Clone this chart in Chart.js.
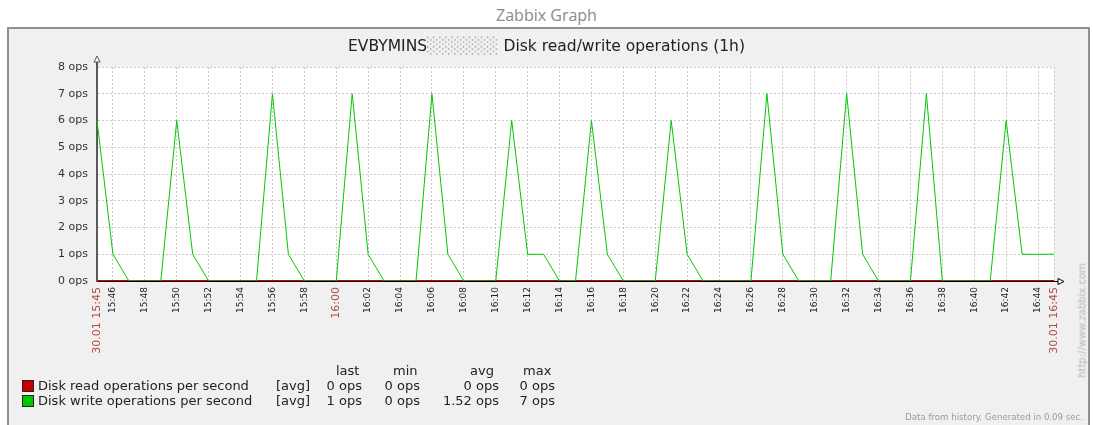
<!DOCTYPE html>
<html>
<head>
<meta charset="utf-8">
<title>Zabbix Graph</title>
<script src="https://cdn.jsdelivr.net/npm/chart.js@4.4.0/dist/chart.umd.min.js"></script>
<style>
body { margin: 0; width: 1093px; height: 425px; overflow: hidden; background: #fff; position: relative; font-family: 'DejaVu Sans', sans-serif; }
#head { position: absolute; left: 0; width: 1093px; top: 4px; text-align: center; font: 16px 'Open Sans', sans-serif; color: #8a8a8a; }
#frame { position: absolute; left: 7px; top: 27px; width: 1079px; height: 420px; background: #f0f0f0; border: 2px solid #8f8f8f; }
#wrap { position: absolute; left: 0; top: 0; width: 1093px; height: 425px; }
#title { position: absolute; left: 0; width: 1093px; top: 37px; text-align: center; font-size: 15.5px; color: #222; white-space: nowrap; }
#title .hide { color: #b4b4b4; }
.leg { position: absolute; font-size: 13px; line-height: 15px; color: #222; white-space: nowrap; }
.sw { position: absolute; width: 10px; height: 10px; border: 1px solid #222; }
#foot { position: absolute; right: 10px; top: 412px; font-size: 8.6px; color: #9a9a9a; white-space: nowrap; }
#url { position: absolute; left: 1022px; top: 315px; width: 120px; text-align: center; font-size: 10px; color: #b4b4b4; transform: rotate(-90deg); white-space: nowrap; }
</style>
</head>
<body>
<div id="head">Zabbix Graph</div>
<div id="frame"></div>
<div id="wrap"><canvas id="graph"></canvas></div>
<div id="title">EVBYMINS<span class="hide">░░░░░░</span> Disk read/write operations (1h)</div>
<div id="legend"></div>
<div id="foot">Data from history. Generated in 0.09 sec.</div>
<div id="url">http://www.zabbix.com</div>
<script>
// minutes of 30.01, one sample per minute
const times = [
    "15:45","15:46","15:47","15:48","15:49","15:50","15:51","15:52","15:53","15:54",
    "15:55","15:56","15:57","15:58","15:59","16:00","16:01","16:02","16:03","16:04",
    "16:05","16:06","16:07","16:08","16:09","16:10","16:11","16:12","16:13","16:14",
    "16:15","16:16","16:17","16:18","16:19","16:20","16:21","16:22","16:23","16:24",
    "16:25","16:26","16:27","16:28","16:29","16:30","16:31","16:32","16:33","16:34",
    "16:35","16:36","16:37","16:38","16:39","16:40","16:41","16:42","16:43","16:44",
    "16:45"
];
const readOps = [
    0,0,0,0,0,0,0,0,0,0,
    0,0,0,0,0,0,0,0,0,0,
    0,0,0,0,0,0,0,0,0,0,
    0,0,0,0,0,0,0,0,0,0,
    0,0,0,0,0,0,0,0,0,0,
    0,0,0,0,0,0,0,0,0,0,
    0
];
const writeOps = [
    6,1,0,0,0,6,1,0,0,0,
    0,7,1,0,0,0,7,1,0,0,
    0,7,1,0,0,0,6,1,1,0,
    0,6,1,0,0,0,6,1,0,0,
    0,0,7,1,0,0,0,7,1,0,
    0,0,7,0,0,0,0,6,1,1,
    1
];
const dateLabel = "30.01";
const redTimes = ["15:45", "16:00", "16:45"];
const yTicks = [0, 1, 2, 3, 4, 5, 6, 7, 8];

const seriesNames = ["Disk read operations per second", "Disk write operations per second"];
const seriesColors = ["#c80000", "#00c800"];
const statLast = ["0 ops", "1 ops"];
const statMin = ["0 ops", "0 ops"];
const statAvg = ["0 ops", "1.52 ops"];
const statMax = ["0 ops", "7 ops"];

function addLeg(text, css)
{
    let el = document.createElement('div');
    el.className = 'leg';
    el.textContent = text;
    Object.assign(el.style, css);
    document.getElementById('legend').appendChild(el);
}

addLeg("last", {left: '336px', top: '363px'});
addLeg("min", {left: '393px', top: '363px'});
addLeg("avg", {left: '470px', top: '363px'});
addLeg("max", {left: '523px', top: '363px'});
for (let i = 0; i < seriesNames.length; i++) {
    let top = 378 + i * 15;
    let sw = document.createElement('div');
    sw.className = 'sw';
    sw.style.left = '22px';
    sw.style.top = (top + 2) + 'px';
    sw.style.background = seriesColors[i];
    document.getElementById('legend').appendChild(sw);
    addLeg(seriesNames[i], {left: '38px', top: top + 'px'});
    addLeg("[avg]", {left: '276px', top: top + 'px'});
    addLeg(statLast[i], {right: (1093 - 362) + 'px', top: top + 'px'});
    addLeg(statMin[i], {right: (1093 - 420) + 'px', top: top + 'px'});
    addLeg(statAvg[i], {right: (1093 - 499) + 'px', top: top + 'px'});
    addLeg(statMax[i], {right: (1093 - 555) + 'px', top: top + 'px'});
}

function isRed(label)
{
    return redTimes.indexOf(label) >= 0;
}

// white plot area + axis arrows
const zabbixFrame = {
    id: 'zabbixFrame',
    beforeDraw(chart) {
        const a = chart.chartArea;
        const c = chart.ctx;
        c.save();
        c.fillStyle = '#ffffff';
        c.fillRect(a.left, a.top, a.right - a.left, a.bottom - a.top);
        c.restore();
    },
    afterDraw(chart) {
        const a = chart.chartArea;
        const c = chart.ctx;
        c.save();
        // y axis arrow
        c.strokeStyle = '#555';
        c.lineWidth = 2;
        c.beginPath();
        c.moveTo(a.left, a.top);
        c.lineTo(a.left, a.top - 6);
        c.stroke();
        c.lineWidth = 1;
        c.fillStyle = '#fff';
        c.beginPath();
        c.moveTo(a.left, a.top - 11);
        c.lineTo(a.left - 3, a.top - 5);
        c.lineTo(a.left + 3, a.top - 5);
        c.closePath();
        c.fill();
        c.stroke();
        // x axis arrow
        c.strokeStyle = '#000';
        c.beginPath();
        c.moveTo(a.right, a.bottom + 0.5);
        c.lineTo(a.right + 4, a.bottom + 0.5);
        c.stroke();
        c.beginPath();
        c.moveTo(a.right + 10, a.bottom + 0.5);
        c.lineTo(a.right + 4, a.bottom - 2.5);
        c.lineTo(a.right + 4, a.bottom + 3.5);
        c.closePath();
        c.fill();
        c.stroke();
        c.restore();
    }
};

Chart.defaults.font.family = "'DejaVu Sans', sans-serif";

const ctx = document.getElementById('graph');
const myChart = new Chart(ctx, {
    type: 'line',
    data: {
        labels: times,
        datasets: [
            {
                label: seriesNames[0],
                data: readOps,
                borderColor: seriesColors[0],
                borderWidth: 2,
                pointRadius: 0,
                tension: 0,
                order: 1
            },
            {
                label: seriesNames[1],
                data: writeOps,
                borderColor: seriesColors[1],
                borderWidth: 1,
                pointRadius: 0,
                tension: 0,
                order: 0
            }]
    },
    options: {
        responsive: true,
        maintainAspectRatio: false,
        animation: false,
        layout: {
            padding: {left: 37, right: 39, top: 67, bottom: 64}
        },
        plugins: {
            legend: {display: false},
            tooltip: {enabled: false},
            title: {display: false}
        },
        scales: {
            x: {
                type: 'category',
                offset: false,
                afterFit: scale => { scale.height = 80; },
                afterBuildTicks: scale => {
                    scale.ticks = scale.ticks.filter(t => t.value % 2 === 1 || t.value === 0 || t.value === times.length - 1);
                },
                grid: {
                    color: ctx => ctx.tick && ctx.tick.value === 0 ? 'rgba(0,0,0,0)' : '#c8c8c8',
                    lineWidth: 1,
                    drawTicks: false
                },
                border: {display: true, color: '#000', width: 1, dash: [2, 2]},
                ticks: {
                    autoSkip: false,
                    minRotation: 90,
                    maxRotation: 90,
                    padding: 6,
                    color: ctx => isRed(times[ctx.tick.value]) ? '#b04848' : '#222',
                    font: ctx => ({size: isRed(times[ctx.tick.value]) ? 11 : 9}),
                    callback: function(value, index) {
                        let label = times[value];
                        if (value === 0 || value === times.length - 1) {
                            return dateLabel + " " + label;
                        }
                        return label;
                    }
                }
            },
            y: {
                min: yTicks[0],
                max: yTicks[yTicks.length - 1],
                afterFit: scale => { scale.width = 60; },
                afterBuildTicks: scale => {
                    scale.ticks = yTicks.map(v => ({value: v}));
                },
                grid: {
                    color: '#c8c8c8',
                    lineWidth: 1,
                    drawTicks: false
                },
                border: {display: true, color: '#5a5a5a', width: 2, dash: [2, 2]},
                ticks: {
                    padding: 9,
                    color: '#333',
                    font: {size: 11},
                    callback: value => value + " ops"
                }
            }
        }
    },
    plugins: [zabbixFrame]
});
</script>
</body>
</html>
